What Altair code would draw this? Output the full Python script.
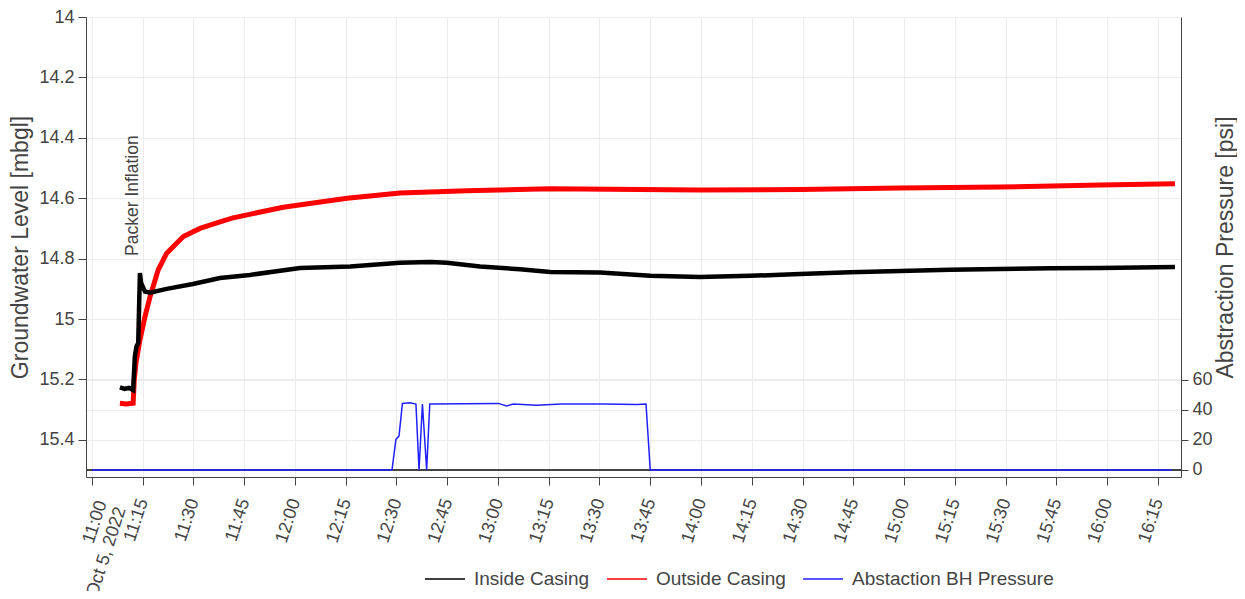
import altair as alt
import pandas as pd

DATE = "2022-10-05T"

# ---- Inside Casing (groundwater level, mbgl) ----
inside_time = ["11:08:15", "11:09:40", "11:11:00", "11:12:10", "11:12:40", "11:13:10", "11:13:40",
               "11:14:10", "11:14:30", "11:15:40", "11:17:10", "11:22:05", "11:29:50", "11:37:50",
               "11:46:40", "12:01:30", "12:16:20", "12:31:00", "12:39:55", "12:44:55", "12:54:40",
               "13:06:30", "13:15:25", "13:30:10", "13:45:00", "13:59:40", "14:14:30", "14:29:15",
               "14:44:00", "14:58:50", "15:13:35", "15:28:20", "15:43:10", "15:58:00", "16:20:05"]
inside_level = [15.226, 15.231, 15.228, 15.235, 15.124, 15.090, 15.080,
                14.848, 14.880, 14.909, 14.913, 14.900, 14.884, 14.864,
                14.854, 14.831, 14.826, 14.814, 14.811, 14.814, 14.826,
                14.835, 14.844, 14.846, 14.857, 14.861, 14.857, 14.851,
                14.845, 14.841, 14.837, 14.834, 14.832, 14.831, 14.828]

# ---- Outside Casing (groundwater level, mbgl) ----
outside_time = ["11:08:15", "11:10:00", "11:12:10", "11:12:30", "11:13:00", "11:14:10", "11:15:40",
                "11:17:10", "11:19:35", "11:22:05", "11:27:00", "11:31:55", "11:37:50", "11:41:40",
                "11:56:30", "12:15:25", "12:31:00", "12:50:50", "13:15:25", "13:59:40", "14:29:15",
                "14:58:50", "15:28:20", "15:58:00", "16:20:05"]
outside_level = [15.279, 15.281, 15.279, 15.200, 15.146, 15.069, 14.992,
                 14.926, 14.837, 14.782, 14.727, 14.700, 14.678, 14.665,
                 14.630, 14.600, 14.583, 14.575, 14.569, 14.573, 14.571,
                 14.566, 14.563, 14.556, 14.552]

# ---- Abstraction BH pressure (psi) ----
pressure_time = ["11:00:00", "12:28:40", "12:29:50", "12:30:45", "12:31:45", "12:33:55", "12:35:45",
                 "12:36:40", "12:37:40", "12:38:55", "12:39:50", "13:00:05", "13:02:35", "13:04:30",
                 "13:11:25", "13:18:50", "13:31:05", "13:41:00", "13:43:45", "13:45:00", "16:19:15"]
pressure_psi = [0, 0, 20.4, 22.7, 44.4, 44.9, 44.0,
                0, 44.0, 0, 44.0, 44.4, 42.7, 44.0,
                43.1, 44.0, 44.0, 43.6, 44.0, 0, 0]

series_names = ["Inside Casing", "Outside Casing", "Abstaction BH Pressure"]
series_colors = ["#000000", "#ff0000", "#2020ff"]

x_domain = ["10:58:14", "16:21:52"]
x_ticks = ["11:00", "11:15", "11:30", "11:45", "12:00", "12:15", "12:30", "12:45", "13:00",
           "13:15", "13:30", "13:45", "14:00", "14:15", "14:30", "14:45", "15:00", "15:15",
           "15:30", "15:45", "16:00", "16:15"]
first_tick_date = "Oct 5, 2022"
level_ticks = [14, 14.2, 14.4, 14.6, 14.8, 15, 15.2, 15.4]
psi_ticks = [0, 20, 40, 60]

annotation_text = ["Packer Inflation"]
annotation_time = ["11:12:08"]
annotation_level = [14.791]

FONT = "Liberation Sans"
GREY = "#444444"


def to_ms(hms):
    if hms.count(":") == 1:
        hms = hms + ":00"
    return int(pd.Timestamp(DATE + hms, tz="UTC").value // 1_000_000)


inside_df = pd.DataFrame({"time": [DATE + t + "Z" for t in inside_time], "level": inside_level,
                          "series": series_names[0]})
outside_df = pd.DataFrame({"time": [DATE + t + "Z" for t in outside_time], "level": outside_level,
                           "series": series_names[1]})
pressure_df = pd.DataFrame({"time": [DATE + t + "Z" for t in pressure_time], "psi": pressure_psi,
                            "series": series_names[2]})
annot_df = pd.DataFrame({"time": [DATE + t + "Z" for t in annotation_time], "level": annotation_level,
                         "label": annotation_text})

first_test = "utcFormat(datum.value, '%H:%M') == '" + x_ticks[0] + "'"
label_expr = (
    first_test + " ? ['" + x_ticks[0] + "', '" + first_tick_date + "'] : utcFormat(datum.value, '%H:%M')"
)

x_enc = alt.X(
    "time:T",
    scale=alt.Scale(type="utc", domain=[to_ms(t) for t in x_domain]),
    axis=alt.Axis(
        title=None,
        values=[to_ms(t) for t in x_ticks],
        labelExpr=label_expr,
        labelAngle=-72,
        labelAlign="right",
        labelBaseline="middle",
        labelPadding={"condition": {"test": first_test, "value": 16}, "value": 14},
        labelOffset={"condition": {"test": first_test, "value": 9.5}, "value": 0},
        labelFontSize=18,
        labelOverlap=False,
        labelFlush=False,
        tickSize=8,
        grid=True,
    ),
)

level_scale = alt.Scale(domain=[14, 15.523], reverse=True, nice=False, zero=False)
y_level = alt.Y(
    "level:Q",
    scale=level_scale,
    axis=alt.Axis(
        title="Groundwater Level [mbgl]",
        values=level_ticks,
        format="~g",
        tickSize=8,
        labelPadding=4,
        labelFontSize=18,
        titleFontSize=23,
        titlePadding=6,
        grid=True,
    ),
)

psi_scale = alt.Scale(domain=[-4.67, 302], nice=False, zero=False)
y_psi = alt.Y(
    "psi:Q",
    scale=psi_scale,
    axis=alt.Axis(
        orient="right",
        title="Abstraction Pressure [psi]",
        values=psi_ticks,
        tickSize=7,
        labelPadding=4,
        labelFontSize=18,
        titleFontSize=23,
        titleAngle=270,
        titleBaseline="top",
        titlePadding=2,
        grid=True,
    ),
)

color_enc = alt.Color(
    "series:N",
    scale=alt.Scale(domain=series_names, range=series_colors),
    legend=alt.Legend(
        title=None,
        orient="none",
        direction="horizontal",
        legendX=338,
        legendY=541,
        symbolType="stroke",
        symbolSize=1600,
        symbolStrokeWidth=1.3,
        labelFontSize=19,
        labelFont=FONT,
        labelColor=GREY,
        labelOffset=8,
        labelLimit=400,
        columnPadding=14,
    ),
)

inside_line = alt.Chart(inside_df).mark_line(strokeWidth=4.5).encode(x=x_enc, y=y_level, color=color_enc)
outside_line = alt.Chart(outside_df).mark_line(strokeWidth=5).encode(x=x_enc, y=y_level, color=color_enc)
annot = alt.Chart(annot_df).mark_text(
    angle=270, align="left", baseline="middle", font=FONT, fontSize=17.5, color=GREY
).encode(x=x_enc, y=y_level, text="label:N")

left_layer = alt.layer(outside_line, inside_line, annot)

zero_rule = alt.Chart(pressure_df).mark_rule(color=GREY, strokeWidth=1).encode(y=alt.datum(0))
pressure_line = alt.Chart(pressure_df).mark_line(strokeWidth=1.5).encode(x=x_enc, y=y_psi, color=color_enc)
right_layer = alt.layer(zero_rule, pressure_line)

chart = (
    alt.layer(left_layer, right_layer)
    .resolve_scale(y="independent")
    .properties(
        width=1095,
        height=460,
        padding={"left": 78, "top": 9, "right": 56, "bottom": 114},
        autosize=alt.AutoSizeParams(type="none"),
    )
    .configure_view(stroke=None)
    .configure_axis(
        labelFont=FONT,
        titleFont=FONT,
        labelColor=GREY,
        titleColor=GREY,
        titleFontWeight="normal",
        domainColor=GREY,
        tickColor=GREY,
        gridColor="#ececec",
        gridWidth=1,
    )
)

chart.save("out.html", embed_options={"renderer": "svg", "actions": False})
